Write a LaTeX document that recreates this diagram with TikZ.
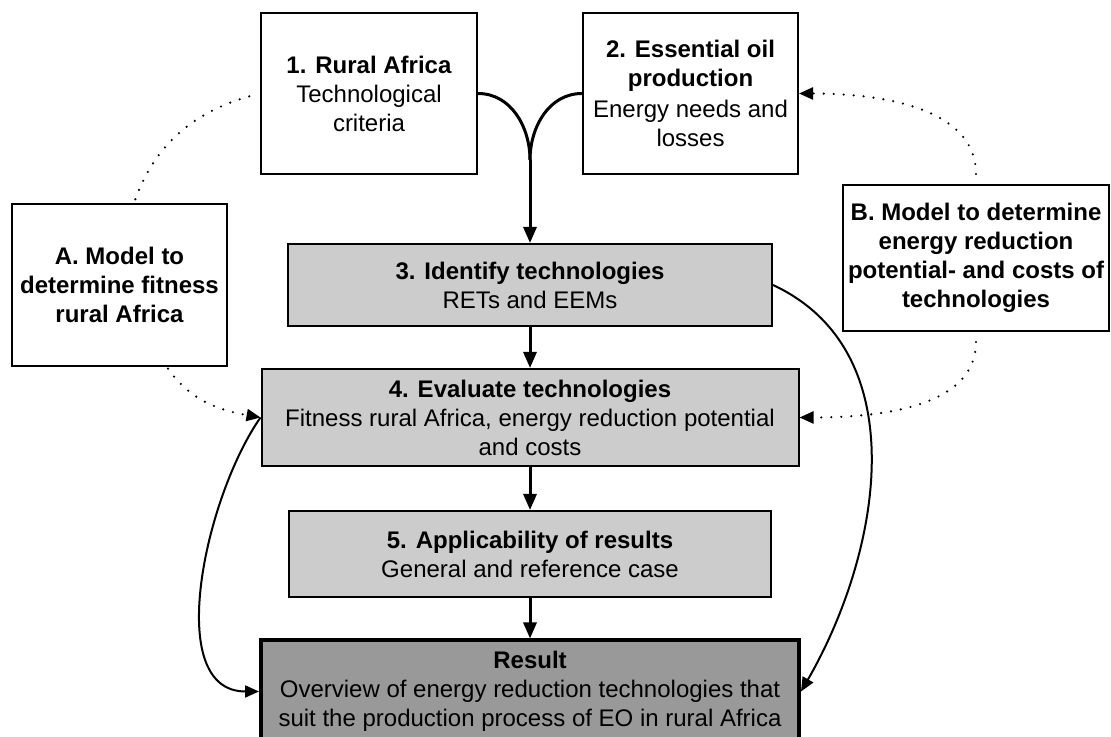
\documentclass[tikz,border=0pt]{standalone}
\usepackage{fontspec}
\setmainfont{Liberation Sans}
\usetikzlibrary{arrows.meta, positioning}
\definecolor{stepgray}{HTML}{CCCCCC}
\definecolor{resultgray}{HTML}{999999}
\tikzset{
  inputbox/.style={
    rectangle, draw=black, line width=1pt, fill=white,
    align=center, inner xsep=1pt, inner ysep=2pt,
    font=\fontsize{12}{14.5}\selectfont
  },
  modelbox/.style={inputbox, font=\fontsize{12}{14.5}\selectfont\bfseries},
  stepbox/.style={inputbox, fill=stepgray},
  resultbox/.style={inputbox, fill=resultgray, line width=2pt},
  flow/.style={-{Triangle[length=8pt,width=6.5pt]}, line width=1.5pt},
  sideflow/.style={-{Triangle[length=7pt,width=6pt]}, line width=1pt},
  modellink/.style={line width=1.2pt, dash pattern=on 0pt off 5pt, line cap=round},
  modelarrow/.style={modellink, -{Triangle[length=7pt,width=6pt]}}
}

\begin{document}
\begin{tikzpicture}[x=0.5pt, y=0.5pt]
  \clip (0,0) rectangle (1111,737);
  % inputs
  \node[inputbox, minimum width=108pt, minimum height=80.5pt]
    (rural) at (369,643.5) {\textbf{1. Rural Africa}\\Technological\\criteria};
  \node[inputbox, minimum width=107.5pt, minimum height=80.5pt]
    (oil) at (690.5,643.5) {\textbf{2. Essential oil}\\\textbf{production}\\[1pt]Energy needs and\\losses};
  % models
  \node[modelbox, minimum width=107.5pt, minimum height=81pt]
    (modelA) at (119.5,452) {A. Model to\\determine fitness\\rural Africa};
  \node[modelbox, minimum width=133pt, minimum height=73pt]
    (modelB) at (976,479) {B. Model to determine\\energy reduction\\potential- and costs of\\technologies};
  % steps
  \node[stepbox, minimum width=242pt, minimum height=41pt]
    (identify) at (530,452) {\textbf{3. Identify technologies}\\RETs and EEMs};
  \node[stepbox, minimum width=268.5pt, minimum height=48.5pt]
    (evaluate) at (530,319.5) {\textbf{4. Evaluate technologies}\\Fitness rural Africa, energy reduction potential\\and costs};
  \node[stepbox, minimum width=241pt, minimum height=43pt]
    (apply) at (530,183) {\textbf{5. Applicability of results}\\General and reference case};
  \node[resultbox, minimum width=269pt, minimum height=51pt]
    (result) at (530,45.5) {\textbf{Result}\\Overview of energy reduction technologies that\\suit the production process of EO in rural Africa};

  % main flow
  \coordinate (merge) at (530,577);
  \draw[line width=1.5pt] (rural.east) to[out=0,in=90] (merge);
  \draw[line width=1.5pt] (oil.west) to[out=180,in=90] (merge);
  \draw[flow] (merge) -- (identify.north);
  \draw[flow] (identify) -- (evaluate);
  \draw[flow] (evaluate) -- (apply);
  \draw[flow] (apply) -- (result);
  \draw[sideflow] (evaluate.west) to[out=235,in=180,looseness=0.9] (result.west);
  \draw[sideflow] (identify.east) to[out=-25,in=60] (result.east);

  % model links
  \draw[modellink, shorten <=2pt, shorten >=4pt] (modelA.80) to[out=70,in=195] (rural.west);
  \draw[modelarrow, shorten <=1pt] (modelA.-60) to[out=-55,in=170] (evaluate.west);
  \draw[modelarrow, shorten <=5pt] (modelB.north) to[out=90,in=0] (oil.east);
  \draw[modelarrow, shorten <=5pt] (modelB.south) to[out=-90,in=0] (evaluate.east);
\end{tikzpicture}
\end{document}
